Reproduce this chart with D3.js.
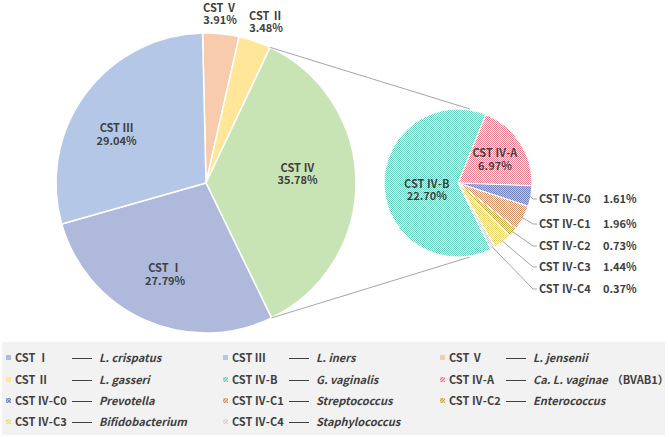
<!DOCTYPE html>
<html>
<head>
<meta charset="utf-8">
<script src="https://cdn.jsdelivr.net/npm/d3@7"></script>
<style>
  body { margin: 0; background: #fff; }
  text { font-family: "Microsoft YaHei", "Noto Sans CJK SC", sans-serif; font-weight: bold; fill: #404040; }
</style>
</head>
<body>
<svg id="chart" width="669" height="437"></svg>
<script>
// main pie, clockwise from 12 o'clock
const mainLabels = ["CST Ⅴ", "CST Ⅱ", "CST Ⅳ", "CST Ⅰ", "CST Ⅲ"];
const mainValues = [3.91, 3.48, 35.78, 27.79, 29.04];
const mainColors = ["#F8CBAD", "#FFE699", "#C9E4B4", "#AEB9DC", "#B4C7E7"];

// second pie: CST IV split, clockwise starting with IV-A
const subLabels = ["CST Ⅳ-A", "CST Ⅳ-C0", "CST Ⅳ-C1", "CST Ⅳ-C2", "CST Ⅳ-C3", "CST Ⅳ-C4", "CST Ⅳ-B"];
const subValues = [6.97, 1.61, 1.96, 0.73, 1.44, 0.37, 22.70];
const subColors = ["#E6788A", "#6F80BE", "#D08A5E", "#BFA53A", "#E9D565", "#CFCFCF", "#5FCBB7"];

// legend, row by row
const legendKeys = ["CST Ⅰ", "CST Ⅲ", "CST Ⅴ",
                    "CST Ⅱ", "CST Ⅳ-B", "CST Ⅳ-A",
                    "CST Ⅳ-C0", "CST Ⅳ-C1", "CST Ⅳ-C2",
                    "CST Ⅳ-C3", "CST Ⅳ-C4"];
const legendSpecies = ["L. crispatus", "L. iners", "L. jensenii",
                       "L. gasseri", "G. vaginalis", "Ca. L. vaginae",
                       "Prevotella", "Streptococcus", "Enterococcus",
                       "Bifidobacterium", "Staphylococcus"];
const legendNotes = ["", "", "", "", "", "（BVAB1）", "", "", "", "", ""];

// label placement tweaks: [radius, angle shift in degrees]
const mainLabelPos = [[170, -1], [172, 1.4], [92, -5.4], [100, 0], [102, -7.7]];
const subLabelPos = { "CST Ⅳ-A": [44, 0], "CST Ⅳ-B": [32, -10] };

const svg = d3.select("#chart");
const pct = v => d3.format(".2f")(v) + "%";
const deg = Math.PI / 180;
const pt = (x0, y0, rad, a) => [x0 + rad * Math.sin(a), y0 - rad * Math.cos(a)];

// fine hatch patterns (pie) and coarser ones (legend swatches)
const defs = svg.append("defs");
function hatch(id, color, size, width, cross) {
  const p = defs.append("pattern")
    .attr("id", id)
    .attr("patternUnits", "userSpaceOnUse")
    .attr("width", size).attr("height", size);
  p.append("rect").attr("width", size).attr("height", size).attr("fill", "#fff");
  p.append("path")
    .attr("d", `M0,${size} L${size},0 M-1,1 L1,-1 M${size - 1},${size + 1} L${size + 1},${size - 1}`)
    .attr("stroke", color).attr("stroke-width", width);
  if (cross) {
    p.append("path")
      .attr("d", `M0,0 L${size},${size} M-1,${size - 1} L1,${size + 1} M${size - 1},-1 L${size + 1},1`)
      .attr("stroke", color).attr("stroke-width", width / 2);
  }
}
subLabels.forEach((k, i) => {
  hatch("hatch" + i, subColors[i], 2, 0.95, k === "CST Ⅳ-C0");
  hatch("lhatch" + i, subColors[i], 3, 1.4, k === "CST Ⅳ-C0");
});

const fillFor = {};
mainLabels.forEach((k, i) => fillFor[k] = mainColors[i]);
subLabels.forEach((k, i) => fillFor[k] = `url(#lhatch${i})`);

// ---- main pie
const cx = 206, cy = 183, r = 150;
const off = -0.023;
const pie = d3.pie().sort(null).startAngle(off).endAngle(2 * Math.PI + off);
const mainArcs = pie(mainValues);
const arc = d3.arc().innerRadius(0).outerRadius(r);

const gMain = svg.append("g").attr("transform", `translate(${cx},${cy})`);
gMain.selectAll("path").data(mainArcs).join("path")
  .attr("d", arc)
  .attr("fill", (d, i) => mainColors[i])
  .attr("stroke", "#fff").attr("stroke-width", 1.5);

function twoLine(g, x, y, a, b) {
  g.append("text").attr("x", x).attr("y", y - 2).attr("text-anchor", "middle")
    .attr("font-size", 11).text(a);
  g.append("text").attr("x", x).attr("y", y + 10.5).attr("text-anchor", "middle")
    .attr("font-size", 11).text(b);
}

mainArcs.forEach((d, i) => {
  const [rad, shift] = mainLabelPos[i];
  const mid = (d.startAngle + d.endAngle) / 2 + shift * deg;
  const [x, y] = pt(0, 0, rad, mid);
  twoLine(gMain, x, y, mainLabels[i], pct(mainValues[i]));
});

// ---- second pie
const sx = 458, sy = 183, sr = 74;
const subStart = 22 * deg;
const subPie = d3.pie().sort(null).startAngle(subStart).endAngle(subStart + 2 * Math.PI);
const subArcs = subPie(subValues);
const subArc = d3.arc().innerRadius(0).outerRadius(sr);

// connector lines between the CST IV slice and the second pie
const iv = mainArcs[2];
[[iv.startAngle, 9 * deg], [iv.endAngle, 171 * deg]].forEach(([a, b]) => {
  const p1 = pt(cx, cy, r, a), p2 = pt(sx, sy, sr + 1, b);
  svg.append("line")
    .attr("x1", p1[0]).attr("y1", p1[1]).attr("x2", p2[0]).attr("y2", p2[1])
    .attr("stroke", "#A6A6A6").attr("stroke-width", 1);
});

const gSub = svg.append("g").attr("transform", `translate(${sx},${sy})`);
gSub.selectAll("path").data(subArcs).join("path")
  .attr("d", subArc)
  .attr("fill", (d, i) => `url(#hatch${i})`)
  .attr("stroke", "#fff").attr("stroke-width", 1);

// inside labels for IV-A and IV-B
subArcs.forEach((d, i) => {
  const k = subLabels[i];
  if (!(k in subLabelPos)) return;
  const [rad, shift] = subLabelPos[k];
  const [x, y] = pt(0, 0, rad, (d.startAngle + d.endAngle) / 2 + shift * deg);
  twoLine(gSub, x, y, k, pct(subValues[i]));
});

// outside labels with leader lines for the small C slices
const outY = [199, 224, 246, 267, 289];
let n = 0;
subArcs.forEach((d, i) => {
  const k = subLabels[i];
  if (k in subLabelPos) return;
  const y = outY[n++];
  const mid = (d.startAngle + d.endAngle) / 2;
  const p = pt(sx, sy, sr - 1, mid);
  svg.append("polyline")
    .attr("points", `${p[0]},${p[1]} 533,${y} 537,${y}`)
    .attr("fill", "none").attr("stroke", "#A6A6A6").attr("stroke-width", 1);
  svg.append("text").attr("x", 539).attr("y", y + 4).attr("font-size", 11).text(k);
  svg.append("text").attr("x", 603).attr("y", y + 4).attr("font-size", 11).text(pct(subValues[i]));
});

// ---- legend
svg.append("rect")
  .attr("x", 2).attr("y", 342).attr("width", 663).attr("height", 93)
  .attr("fill", "#F2F2F2");

const colX = [0, 217, 434], rowY = [358, 380, 401, 422];
legendKeys.forEach((k, i) => {
  const g = svg.append("g")
    .attr("transform", `translate(${colX[i % 3]},${rowY[Math.floor(i / 3)]})`);
  g.append("rect").attr("x", 6).attr("y", -3).attr("width", 5).attr("height", 5)
    .attr("fill", fillFor[k]);
  g.append("text").attr("x", 15).attr("y", 4).attr("font-size", 11).text(k);
  g.append("line").attr("x1", 72).attr("x2", 92).attr("y1", 0.5).attr("y2", 0.5)
    .attr("stroke", "#404040").attr("stroke-width", 1);
  const t = g.append("text").attr("x", 99).attr("y", 4).attr("font-size", 11);
  t.append("tspan").attr("font-style", "italic").text(legendSpecies[i]);
  if (legendNotes[i]) t.append("tspan").attr("dx", 4).text(legendNotes[i]);
});
</script>
</body>
</html>
